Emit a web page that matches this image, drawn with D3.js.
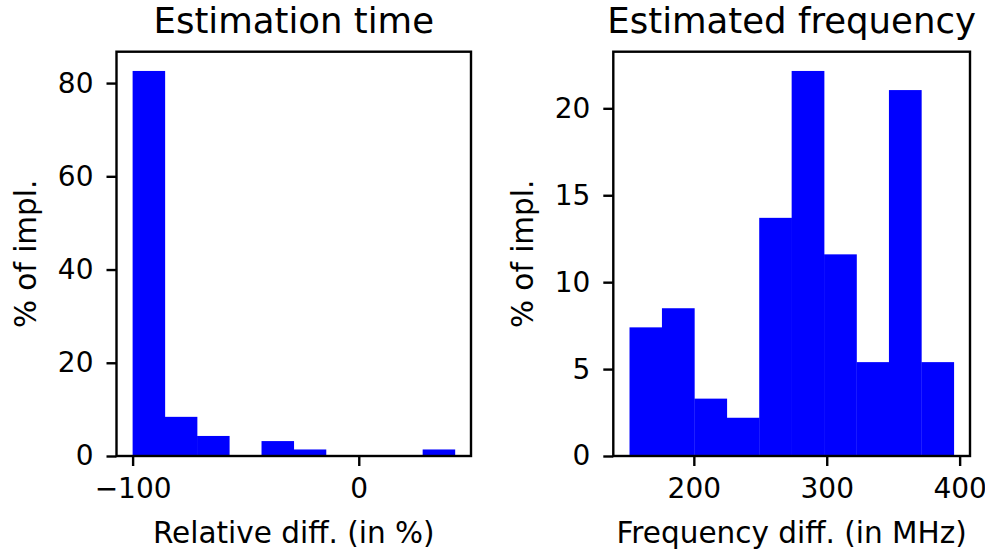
<!doctype html>
<meta charset="utf-8">
<script src="https://d3js.org/d3.v7.min.js"></script>
<style>
  body { margin: 0; background: #fff; }
  svg { display: block; font-family: "DejaVu Sans", sans-serif; }
</style>
<body></body>
<script>

var width = 985;
var height = 552;

// left histogram: estimation time
var timeEdges = [-100, -85.75, -71.5, -57.25, -43, -28.75, -14.5, -0.25, 14, 28.25, 42.5];
var timeValues = [82.6, 8.4, 4.3, 0, 3.2, 1.4, 0, 0, 0, 1.4];
var timeYTicks = [0, 20, 40, 60, 80];
var timeXTicks = [-100, 0];

// right histogram: estimated frequency
var freqEdges = [151.6, 176, 200.4, 224.8, 249.2, 273.6, 298, 322.4, 346.8, 371.2, 395.6];
var freqValues = [7.4, 8.5, 3.3, 2.2, 13.7, 22.15, 11.6, 5.4, 21.05, 5.4];
var freqYTicks = [0, 5, 10, 15, 20];
var freqXTicks = [200, 300, 400];

var svg = d3.select("body")
        .append("svg")
        .attr("width", width)
        .attr("height", height);

function histogram(opts) {
    var left = opts.left, right = opts.right, top = 51.7, bottom = 456;

    var lo = opts.edges[0], hi = opts.edges[opts.edges.length - 1];
    var margin = (hi - lo) * 0.05;
    var x = d3.scaleLinear()
            .domain([lo - margin, hi + margin])
            .range([left, right]);
    var y = d3.scaleLinear()
            .domain([0, d3.max(opts.values) * 1.05])
            .range([bottom, top]);

    var g = svg.append("g");

    var bins = opts.values.map(function(v, i){
        return {x0: opts.edges[i], x1: opts.edges[i + 1], v: v};
    });

    g.selectAll("rect.bar")
            .data(bins)
            .enter()
            .append("rect")
            .attr("class", "bar")
            .attr("x", function(d){ return x(d.x0); })
            .attr("width", function(d){ return x(d.x1) - x(d.x0) + 0.3; })
            .attr("y", function(d){ return y(d.v); })
            .attr("height", function(d){ return bottom - y(d.v); })
            .style("fill", "#0000ff");

    var xAxis = g.append("g")
            .attr("transform", "translate(0," + bottom + ")")
            .call(d3.axisBottom(x).tickValues(opts.xTicks).tickSize(10).tickPadding(12));
    var yAxis = g.append("g")
            .attr("transform", "translate(" + left + ",0)")
            .call(d3.axisLeft(y).tickValues(opts.yTicks).tickSize(10).tickPadding(13));

    [xAxis, yAxis].forEach(function(a){
        a.select(".domain").remove();
        a.selectAll("line").attr("stroke", "#000").attr("stroke-width", 2.4);
        a.selectAll("text")
                .attr("fill", "#000")
                .style("font-size", "28px")
                .style("font-family", "DejaVu Sans");
    });

    g.append("rect")
            .attr("x", left)
            .attr("y", top)
            .attr("width", right - left)
            .attr("height", bottom - top)
            .attr("fill", "none")
            .attr("stroke", "#000")
            .attr("stroke-width", 2.4);

    g.append("text")
            .attr("x", (left + right) / 2)
            .attr("y", 33)
            .attr("text-anchor", "middle")
            .style("font-size", "35.5px")
            .text(opts.title);

    g.append("text")
            .attr("x", (left + right) / 2)
            .attr("y", 543)
            .attr("text-anchor", "middle")
            .style("font-size", "29.5px")
            .text(opts.xLabel);

    g.append("text")
            .attr("transform", "translate(" + opts.yLabelX + "," + (top + bottom) / 2 + ") rotate(-90)")
            .attr("text-anchor", "middle")
            .style("font-size", "29.5px")
            .text("% of impl.");
}

histogram({
    left: 116.5, right: 471,
    edges: timeEdges, values: timeValues,
    xTicks: timeXTicks, yTicks: timeYTicks,
    title: "Estimation time",
    xLabel: "Relative diff. (in %)",
    yLabelX: 36
});

histogram({
    left: 613.3, right: 970,
    edges: freqEdges, values: freqValues,
    xTicks: freqXTicks, yTicks: freqYTicks,
    title: "Estimated frequency",
    xLabel: "Frequency diff. (in MHz)",
    yLabelX: 533
});

</script>
